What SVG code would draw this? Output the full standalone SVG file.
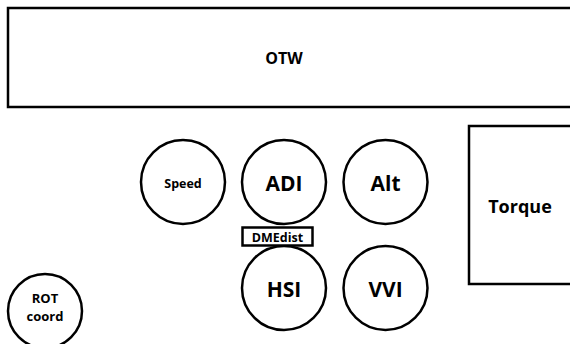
<svg xmlns="http://www.w3.org/2000/svg" width="570" height="344" viewBox="0 0 570 344">
<style>
.s{fill:#fff;stroke:#000;stroke-width:2.5}
.t{font-family:"Open Sans","Liberation Sans",sans-serif;font-weight:bold;fill:#000;text-anchor:middle;dominant-baseline:central}
</style>
<rect width="570" height="344" fill="#fff"/>
<g id="OTW"><rect class="s" x="8" y="8" width="575" height="99"/><text class="t" x="284" y="58" font-size="16" font-family="Liberation Sans">OTW</text></g>
<g id="Torque"><rect class="s" x="469" y="126" width="110" height="158"/><text class="t" x="520" y="206" font-size="18">Torque</text></g>
<g id="Speed"><circle class="s" cx="183" cy="182" r="42"/><text class="t" x="183" y="183" font-size="12.5">Speed</text></g>
<g id="ADI"><circle class="s" cx="284" cy="182" r="42"/><text class="t" x="284" y="183" font-size="21">ADI</text></g>
<g id="Alt"><circle class="s" cx="385.5" cy="182" r="42"/><text class="t" x="385.5" y="183" font-size="21">Alt</text></g>
<g id="HSI"><circle class="s" cx="284" cy="288" r="42"/><text class="t" x="284" y="289" font-size="21">HSI</text></g>
<g id="VVI"><circle class="s" cx="385.5" cy="288" r="42"/><text class="t" x="385.5" y="289" font-size="21">VVI</text></g>
<g id="DMEdist"><rect class="s" x="242.5" y="227.5" width="70" height="18"/><text class="t" x="277.5" y="237" font-size="12.5">DMEdist</text></g>
<g id="ROT"><circle class="s" cx="45" cy="311" r="37"/><text class="t" x="45" y="298" font-size="13">ROT</text><text class="t" x="45" y="316" font-size="13">coord</text></g>
<g id="connectors"/>
</svg>
